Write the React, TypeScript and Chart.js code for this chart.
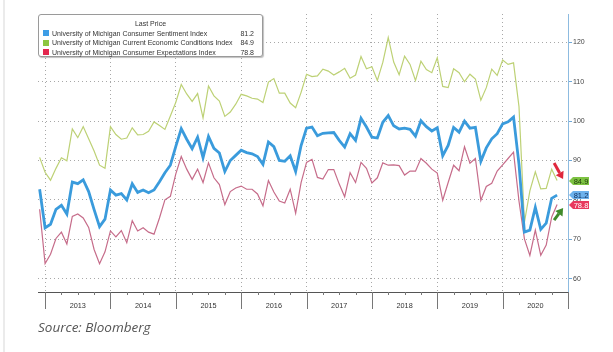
import React, { useEffect, useRef } from 'react';
import { Chart, registerables } from 'chart.js';

Chart.register(...registerables);

// ---- data (monthly, Nov 2012 .. Oct 2020) ----
const years = ['2013', '2014', '2015', '2016', '2017', '2018', '2019', '2020'];
const monthsBeforeFirstYear = 2; // Nov, Dec 2012
const seriesNames = [
  'University of Michigan Consumer Sentiment Index',
  'University of Michigan Current Economic Conditions Index',
  'University of Michigan Consumer Expectations Index',
];
const sentiment = [
  82.7, 72.9,
  73.8, 77.6, 78.6, 76.4, 84.5, 84.1, 85.1, 82.1, 77.5, 73.2, 75.1, 82.5,
  81.2, 81.6, 80.0, 84.1, 81.9, 82.5, 81.8, 82.5, 84.6, 86.9, 88.8, 93.6,
  98.1, 95.4, 93.0, 95.9, 90.7, 96.1, 93.1, 91.9, 87.2, 90.0, 91.3, 92.6,
  92.0, 91.7, 91.0, 89.0, 94.7, 93.5, 90.0, 89.8, 91.2, 87.2, 93.8, 98.2,
  98.5, 96.3, 96.9, 97.0, 97.1, 95.1, 93.4, 96.8, 95.1, 100.7, 98.5, 95.9,
  95.7, 99.7, 101.4, 98.8, 98.0, 98.2, 97.9, 96.2, 100.1, 98.6, 97.5, 98.3,
  91.2, 93.8, 98.4, 97.2, 100.0, 98.2, 98.4, 89.8, 93.2, 95.5, 96.8, 99.3,
  99.8, 101.0, 89.1, 71.8, 72.3, 78.1, 72.5, 74.1, 80.4, 81.2,
];
const currentConditions = [
  90.8, 87.0,
  85.0, 88.0, 90.7, 89.9, 98.0, 95.8, 98.6, 95.5, 92.4, 88.8, 88.0, 98.6,
  96.6, 95.4, 95.7, 98.3, 96.5, 96.6, 97.4, 99.8, 98.9, 97.9, 101.3, 104.8,
  109.3, 106.9, 105.0, 107.0, 100.8, 108.9, 106.4, 105.1, 101.2, 102.3, 104.3, 106.8,
  106.4, 105.8, 105.6, 104.7, 109.9, 110.8, 107.1, 107.1, 104.6, 103.4, 107.3, 111.9,
  111.3, 111.5, 113.2, 112.7, 111.7, 112.5, 113.4, 110.9, 111.7, 116.4, 113.3, 113.8,
  110.3, 114.9, 121.2, 115.0, 111.8, 116.5, 114.4, 110.3, 115.2, 113.1, 112.3, 116.1,
  108.8, 108.5, 113.3, 112.3, 110.0, 111.9, 110.7, 105.3, 108.5, 113.2, 111.6, 115.5,
  114.4, 114.8, 103.7, 74.3, 82.3, 87.1, 82.8, 82.9, 87.8, 84.9,
];
const expectations = [
  77.6, 63.8,
  66.2, 70.2, 71.8, 68.8, 75.8, 76.4, 75.4, 73.0, 67.4, 63.8, 66.8, 72.1,
  70.6, 72.2, 69.1, 74.7, 72.1, 72.9, 71.8, 71.3, 75.4, 80.0, 80.9, 86.6,
  91.0, 87.8, 85.2, 87.8, 84.4, 89.4, 85.6, 83.9, 78.8, 82.1, 83.0, 83.5,
  82.7, 82.7, 81.5, 78.5, 84.9, 82.0, 79.7, 79.2, 82.7, 76.6, 84.4, 89.5,
  90.3, 85.7, 85.3, 87.7, 87.7, 84.0, 80.8, 86.9, 84.4, 89.5, 88.0, 84.3,
  85.6, 89.4, 88.8, 88.9, 88.7, 86.3, 87.3, 87.3, 90.5, 89.3, 87.8, 86.8,
  79.9, 84.4, 88.8, 87.4, 93.5, 89.3, 90.5, 79.9, 83.4, 84.2, 87.3, 88.9,
  90.5, 92.1, 79.7, 70.1, 65.9, 72.3, 65.9, 68.5, 75.6, 78.8,
];
const lastPrices = ['81.2', '84.9', '78.8'];
const yTickValues = [60, 70, 80, 90, 100, 110, 120];
const yMin = 56.6;
const yMax = 127.2;

const lineColors = ['#3a9bdc', '#bdd175', '#c66c8a'];
const legendColors = ['#3d9de6', '#8cc640', '#e4284f'];
const tagFill = ['#6cb1ec', '#7dc242', '#e83a5e'];
const tagText = ['#0d2c5a', '#1d3a0a', '#ffffff'];

const boundary = (j: number) => monthsBeforeFirstYear - 1 + 12 * j;
const FONT = '"Liberation Sans", Arial, sans-serif';

const toPoints = (arr: number[]) => arr.map((y, i) => ({ x: i, y }));

const bottomAxisPlugin = {
  id: 'bottomAxis',
  afterDraw(chart: any) {
    const { ctx, chartArea: a, scales } = chart;
    const xs = scales.x;
    ctx.save();
    ctx.strokeStyle = '#555';
    ctx.lineWidth = 1;
    ctx.beginPath();
    ctx.moveTo(a.left, a.bottom + 0.5);
    ctx.lineTo(a.right, a.bottom + 0.5);
    ctx.stroke();
    ctx.strokeStyle = '#777';
    for (let j = 0; j <= years.length; j++) {
      const px = Math.round(xs.getPixelForValue(boundary(j))) + 0.5;
      ctx.beginPath();
      ctx.moveTo(px, a.bottom);
      ctx.lineTo(px, a.bottom + 17);
      ctx.stroke();
      if (j < years.length) {
        for (let m = 1; m <= 3; m++) {
          const qx = Math.round(xs.getPixelForValue(boundary(j) + 3 * m)) + 0.5;
          ctx.beginPath();
          ctx.moveTo(qx, a.bottom);
          ctx.lineTo(qx, a.bottom + 3);
          ctx.stroke();
        }
      }
    }
    ctx.fillStyle = '#333';
    ctx.font = `7.3px ${FONT}`;
    ctx.textAlign = 'center';
    ctx.textBaseline = 'middle';
    years.forEach((yr, j) => {
      ctx.fillText(yr, xs.getPixelForValue(boundary(j) + 6), a.bottom + 14);
    });
    ctx.restore();
  },
};

const tagsPlugin = {
  id: 'tags',
  afterDraw(chart: any) {
    const { ctx, chartArea: a, scales } = chart;
    const ys = scales.y;
    const xs = scales.x;
    ctx.save();
    const x0 = a.right + 1;
    chart.data.datasets.forEach((ds: any, k: number) => {
      const last = ds.data[ds.data.length - 1].y;
      const y = Math.round(ys.getPixelForValue(last));
      ctx.fillStyle = tagFill[k];
      ctx.beginPath();
      ctx.moveTo(x0, y);
      ctx.lineTo(x0 + 4, y - 4);
      ctx.lineTo(x0 + 20, y - 4);
      ctx.lineTo(x0 + 20, y + 4);
      ctx.lineTo(x0 + 4, y + 4);
      ctx.closePath();
      ctx.fill();
      ctx.fillStyle = tagText[k];
      ctx.font = `7.5px ${FONT}`;
      ctx.textAlign = 'center';
      ctx.textBaseline = 'middle';
      ctx.fillText(last.toFixed(1), x0 + 12, y + 0.5);
    });

    // arrows
    const lastIdx = sentiment.length - 1;
    const xl = xs.getPixelForValue(lastIdx) + 6;
    const yCur = ys.getPixelForValue(currentConditions[lastIdx]) - 1.5;
    const yExp = ys.getPixelForValue(expectations[lastIdx]) + 3.5;
    const arrow = (tx: number, ty: number, fx: number, fy: number, color: string) => {
      const dx = tx - fx, dy = ty - fy;
      const len = Math.hypot(dx, dy);
      const ux = dx / len, uy = dy / len;
      const hl = 7, hw = 4.5;
      const bx = tx - ux * hl, by = ty - uy * hl;
      ctx.strokeStyle = color;
      ctx.lineWidth = 3;
      ctx.beginPath();
      ctx.moveTo(fx, fy);
      ctx.lineTo(bx, by);
      ctx.stroke();
      ctx.fillStyle = color;
      ctx.beginPath();
      ctx.moveTo(tx, ty);
      ctx.lineTo(bx - uy * hw, by + ux * hw);
      ctx.lineTo(bx + uy * hw, by - ux * hw);
      ctx.closePath();
      ctx.fill();
    };
    arrow(xl, yCur, xl - 9, yCur - 16, '#e0283c');
    arrow(xl, yExp, xl - 9, yExp + 12, '#3f8a2a');
    ctx.restore();
  },
};

export default function App() {
  const ref = useRef<HTMLCanvasElement | null>(null);
  useEffect(() => {
    if (!ref.current) return;
    const chart = new Chart(ref.current, {
      type: 'line',
      data: {
        datasets: [
          { label: seriesNames[0], data: toPoints(sentiment), borderColor: lineColors[0], borderWidth: 2.8, pointRadius: 0, tension: 0 },
          { label: seriesNames[1], data: toPoints(currentConditions), borderColor: lineColors[1], borderWidth: 1.2, pointRadius: 0, tension: 0 },
          { label: seriesNames[2], data: toPoints(expectations), borderColor: lineColors[2], borderWidth: 1.2, pointRadius: 0, tension: 0 },
        ],
      },
      options: {
        animation: false,
        responsive: false,
        devicePixelRatio: 1,
        layout: { padding: { left: 38, top: 14, right: 0, bottom: 0 } },
        plugins: { legend: { display: false }, tooltip: { enabled: false } },
        scales: {
          x: {
            type: 'linear',
            min: -0.3,
            max: boundary(years.length),
            afterBuildTicks: (s: any) => {
              s.ticks = years.map((_, j) => ({ value: boundary(j) })).concat([{ value: boundary(years.length) }]);
            },
            afterFit: (s: any) => { s.height = 60; },
            ticks: { display: false },
            grid: { color: '#a8a8a8', lineWidth: 1, drawTicks: false, tickLength: 0 },
            border: { display: false, dash: [1, 3] },
          },
          y: {
            type: 'linear',
            position: 'right',
            min: yMin,
            max: yMax,
            afterBuildTicks: (s: any) => {
              s.ticks = yTickValues.map((v) => ({ value: v }));
            },
            afterFit: (s: any) => { s.width = 45; },
            ticks: { color: '#444', font: { family: FONT, size: 7 }, padding: 1 },
            grid: { color: '#a8a8a8', lineWidth: 1, drawTicks: true, tickLength: 4, tickColor: '#6fa8d8' },
            border: { display: true, color: '#8dbbe0', width: 1, dash: [1, 3] },
          },
        },
      },
      plugins: [bottomAxisPlugin, tagsPlugin],
    } as any);
    return () => chart.destroy();
  }, []);

  const row = (k: number) => (
    <div key={k} style={{ display: 'flex', alignItems: 'center', height: 9.5 }}>
      <span style={{ width: 6, height: 6, background: legendColors[k], marginLeft: 4, marginRight: 3, flex: 'none' }} />
      <span style={{ flex: 1, whiteSpace: 'nowrap' }}>{seriesNames[k]}</span>
      <span style={{ marginRight: 8, marginLeft: 2 }}>{lastPrices[k]}</span>
    </div>
  );

  return (
    <div style={{ position: 'fixed', left: 0, top: 0, width: 613, height: 352, background: '#fff', overflow: 'hidden' }}>
      <div style={{ position: 'absolute', left: 3, top: 0, width: 2, height: 352, background: '#ebebeb' }} />
      <canvas ref={ref} width={613} height={352} style={{ position: 'absolute', left: 0, top: 0, width: 613, height: 352 }} />
      <div
        style={{
          position: 'absolute', left: 38, top: 14, width: 225, height: 43,
          background: '#fff', border: '1px solid #9a9a9a', borderRadius: 3,
          boxShadow: '1px 1px 1px rgba(0,0,0,0.25)',
          fontFamily: FONT, fontSize: 7, color: '#333', lineHeight: '9.5px', boxSizing: 'border-box',
          paddingTop: 4,
        }}
      >
        <div style={{ textAlign: 'center', height: 9.5 }}>Last Price</div>
        {row(0)}
        {row(1)}
        {row(2)}
      </div>
      <div
        style={{
          position: 'absolute', left: 38, top: 321, fontFamily: '"Open Sans", sans-serif',
          fontStyle: 'italic', fontSize: 13.5, lineHeight: '13.5px', color: '#555', whiteSpace: 'nowrap',
        }}
      >
        Source: Bloomberg
      </div>
    </div>
  );
}
